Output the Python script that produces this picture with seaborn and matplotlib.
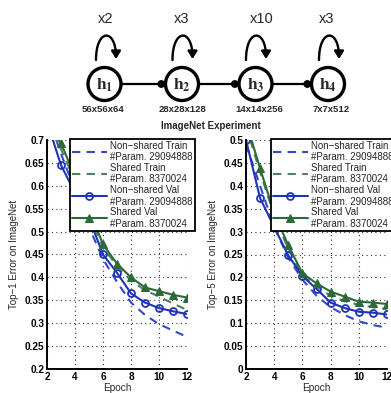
import numpy as np
import pandas as pd
import matplotlib
matplotlib.use("Agg")
import matplotlib.pyplot as plt
import seaborn as sns
from matplotlib.patches import Circle, FancyArrowPatch
from matplotlib.path import Path

# ---------------- data ----------------
epochs = [2, 3, 4, 5, 6, 7, 8, 9, 10, 11, 12]

top1_nonshared_train = [0.76, 0.67, 0.59, 0.51, 0.44, 0.39, 0.345, 0.318, 0.298, 0.284, 0.27]
top1_shared_train = [0.74, 0.68, 0.61, 0.54, 0.465, 0.425, 0.393, 0.372, 0.358, 0.343, 0.329]
top1_nonshared_val = [0.74, 0.645, 0.585, 0.53, 0.45, 0.41, 0.365, 0.345, 0.333, 0.326, 0.32]
top1_shared_val = [0.73, 0.693, 0.62, 0.55, 0.472, 0.43, 0.40, 0.378, 0.37, 0.362, 0.356]

top5_nonshared_train = [0.49, 0.40, 0.31, 0.243, 0.195, 0.16, 0.135, 0.118, 0.104, 0.096, 0.09]
top5_shared_train = [0.53, 0.43, 0.335, 0.262, 0.205, 0.18, 0.16, 0.148, 0.14, 0.135, 0.13]
top5_nonshared_val = [0.50, 0.373, 0.31, 0.248, 0.203, 0.175, 0.145, 0.133, 0.125, 0.123, 0.119]
top5_shared_val = [0.54, 0.438, 0.34, 0.27, 0.209, 0.187, 0.169, 0.158, 0.147, 0.145, 0.142]

legend_labels = ["Non\u2212shared Train\n#Param. 29094888",
                 "Shared Train\n#Param. 8370024",
                 "Non\u2212shared Val\n#Param. 29094888",
                 "Shared Val\n#Param. 8370024"]

node_labels = [r"$\mathbf{h}_{\mathbf{1}}$", r"$\mathbf{h}_{\mathbf{2}}$",
               r"$\mathbf{h}_{\mathbf{3}}$", r"$\mathbf{h}_{\mathbf{4}}$"]
repeat_labels = ["x2", "x3", "x10", "x3"]
size_labels = ["56x56x64", "28x28x128", "14x14x256", "7x7x512"]

title = "ImageNet Experiment"

# ---------------- style ----------------
sns.set_theme(style="white")
plt.rcParams["font.family"] = ["Liberation Sans", "DejaVu Sans"]
plt.rcParams["mathtext.fontset"] = "stix"

W, H = 391, 393
fig = plt.figure(figsize=(W / 100, H / 100), dpi=100)
fig.patch.set_facecolor("white")

BLUE = "#1f33b8"
BLUE_D = "#3347cc"
GREEN = "#2c6a3a"
GREEN_D = "#557f5e"

def px_axes(x0, x1, ytop, ybot):
    return fig.add_axes([x0 / W, 1 - ybot / H, (x1 - x0) / W, (ybot - ytop) / H])

ax1 = px_axes(47, 187, 140, 369)
ax2 = px_axes(246, 387, 140, 369)

def draw(ax, ntr, str_, nval, sval, ylim, ylab, legx):
    df = pd.DataFrame({"Epoch": epochs, "ntr": ntr, "str": str_, "nval": nval, "sval": sval})
    sns.lineplot(data=df, x="Epoch", y="ntr", ax=ax, color=BLUE_D, lw=1.5,
                 linestyle=(0, (4, 3)), label=legend_labels[0])
    sns.lineplot(data=df, x="Epoch", y="str", ax=ax, color=GREEN_D, lw=1.5,
                 linestyle=(0, (4, 3)), label=legend_labels[1])
    sns.lineplot(data=df, x="Epoch", y="nval", ax=ax, color=BLUE, lw=1.5,
                 marker="o", markersize=5, markerfacecolor="none",
                 markeredgecolor=BLUE, markeredgewidth=1.3, label=legend_labels[2])
    sns.lineplot(data=df, x="Epoch", y="sval", ax=ax, color=GREEN, lw=1.5,
                 marker="^", markersize=5.5, markerfacecolor=GREEN,
                 markeredgecolor=GREEN, label=legend_labels[3])
    ax.set_xlim(2, 12)
    ax.set_ylim(*ylim)
    ax.set_xticks([2, 4, 6, 8, 10, 12])
    yt = np.round(np.arange(ylim[0], ylim[1] + 1e-9, 0.05), 2)
    ax.set_yticks(yt)
    ax.set_yticklabels(["%g" % v for v in yt])
    ax.grid(True, color="#333333", linestyle=(0, (1, 3)), linewidth=0.8)
    for s in ["top", "right"]:
        ax.spines[s].set_visible(False)
    for s in ["left", "bottom"]:
        ax.spines[s].set_color("black")
        ax.spines[s].set_linewidth(1.4)
    ax.tick_params(axis="both", direction="in", length=3, width=1, pad=2,
                   labelsize=7.2, colors="black")
    for t in ax.get_xticklabels() + ax.get_yticklabels():
        t.set_fontweight("bold")
    ax.set_xlabel("Epoch", fontsize=7.2, labelpad=1)
    ax.set_ylabel(ylab, fontsize=7, labelpad=4)
    leg = ax.legend(loc="upper left", bbox_to_anchor=(legx, 1.005), borderaxespad=0,
                    fontsize=7, frameon=True, fancybox=False, framealpha=1,
                    edgecolor="black", handlelength=3.6, handletextpad=0.35,
                    labelspacing=0.05, borderpad=0.2)
    leg.get_frame().set_linewidth(1.3)

draw(ax1, top1_nonshared_train, top1_shared_train, top1_nonshared_val, top1_shared_val,
     (0.2, 0.7), "Top\u22121 Error on ImageNet", 0.164)
draw(ax2, top5_nonshared_train, top5_shared_train, top5_nonshared_val, top5_shared_val,
     (0.0, 0.5), "Top\u22125 Error on ImageNet", 0.177)

fig.text(210.5 / W, 1 - 126 / H, title, ha="center", va="center",
         fontsize=7, fontweight="bold")

# ---------------- diagram ----------------
dax = fig.add_axes([0, 1 - 118 / H, 1, 118 / H])
dax.set_xlim(0, W)
dax.set_ylim(118, 0)
dax.axis("off")

cxs = [104.5, 182, 255.5, 328]
loop_cx = [106, 182.5, 256, 329]
txt_x = [106, 182, 262, 327]
size_x = [103, 182.5, 259, 331.5]
cy = 84
r = 16.5

for i, cx in enumerate(cxs):
    dax.add_patch(Circle((cx, cy), r, fill=False, lw=2.4, ec="black"))
    dax.text(cx, cy + 1, node_labels[i], ha="center", va="center", fontsize=12.5)
    dax.text(size_x[i], 109.5, size_labels[i], ha="center", va="center",
             fontsize=6.8, fontweight="bold")
    dax.text(txt_x[i], 19, repeat_labels[i], ha="center", va="center", fontsize=10.5)
    lx = loop_cx[i]
    verts = [(lx - 10, 60), (lx - 10, 28), (lx + 10, 28), (lx + 10, 59)]
    path = Path(verts, [Path.MOVETO, Path.CURVE4, Path.CURVE4, Path.CURVE4])
    dax.add_patch(FancyArrowPatch(path=path, arrowstyle="-|>,head_length=4.5,head_width=2.8",
                                  lw=1.7, color="black", shrinkA=0, shrinkB=0))
    if i < 3:
        x0 = cx + r + 1.2
        x1 = cxs[i + 1] - r - 1.2
        dax.plot([x0, x1 - 3], [cy, cy], color="black", lw=1.6)
        dax.add_patch(Circle((x1 - 3, cy), 3.2, color="black"))

fig.savefig("out.png", dpi=100, facecolor="white")
